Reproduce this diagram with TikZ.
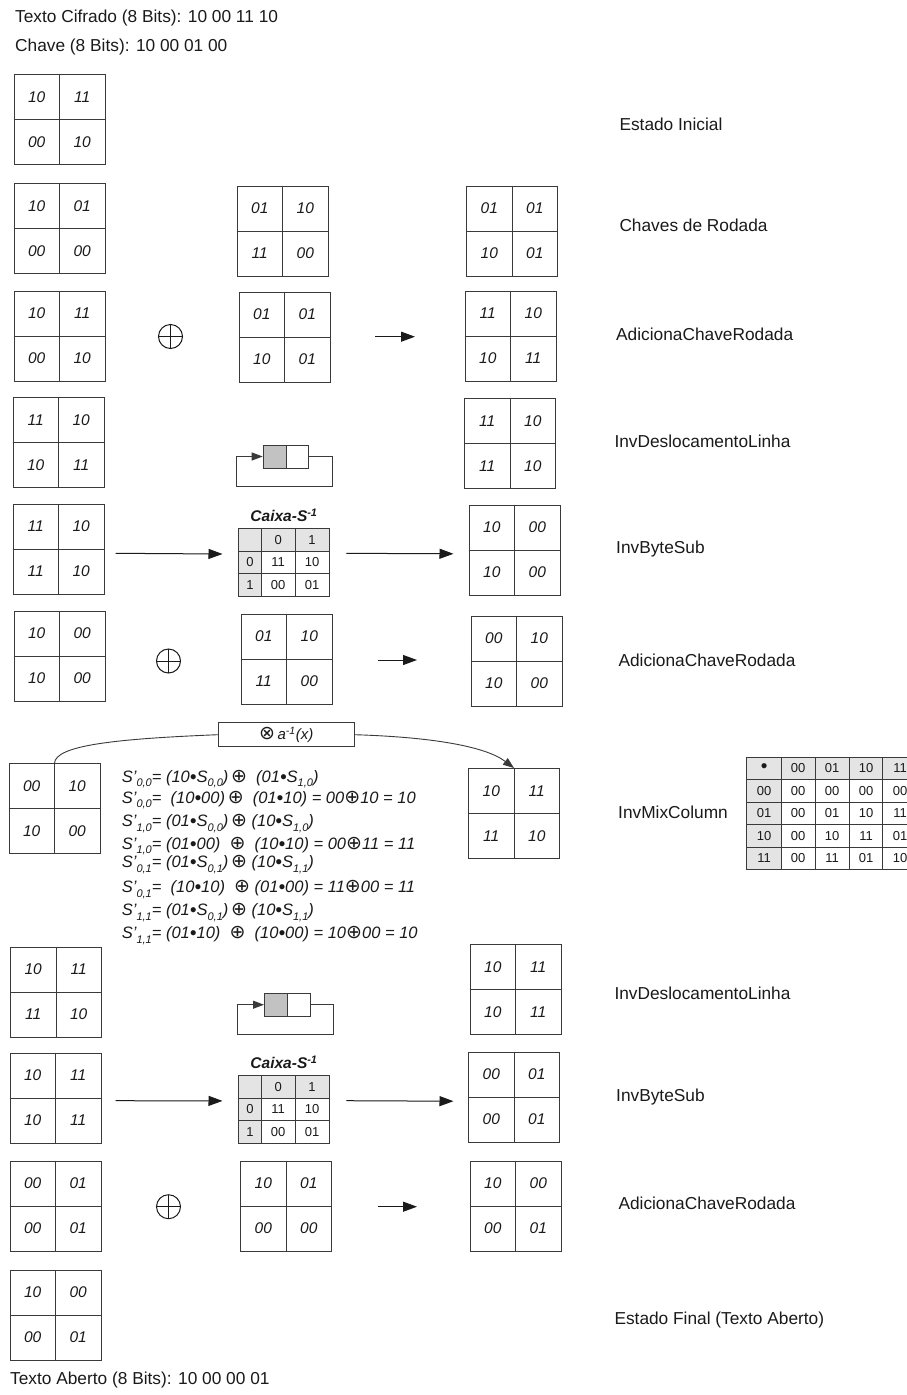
\documentclass[tikz,border=0pt]{standalone}
\usepackage{fontspec}
\setmainfont{Liberation Sans}
\newfontfamily\dejavu{DejaVu Sans}
\usetikzlibrary{arrows.meta,calc}
\definecolor{ln}{HTML}{3A3A3A}
\definecolor{tx}{HTML}{1A1A1A}
\definecolor{hd}{HTML}{E4E4E4}
\definecolor{sh}{HTML}{C2C2C2}
\tikzset{
  gridbox/.style={draw=ln, line width=1pt, minimum width=91pt, minimum height=90pt, inner sep=0pt, anchor=north west},
  gridline/.style={draw=ln, line width=1pt},
  celltxt/.style={font=\fontsize{15.5}{16}\selectfont\itshape, text=tx, inner sep=0pt},
  lbl/.style={font=\fontsize{17.3}{20}\selectfont, text=tx, anchor=base west, inner sep=0pt},
  frm/.style={font=\fontsize{16.5}{18}\selectfont\itshape, text=tx, anchor=base west, inner sep=0pt},
  arr/.style={draw=tx, line width=1pt, -{Triangle[length=14pt,width=10pt]}},
  looparr/.style={draw=ln, line width=1pt, -{Triangle[length=11pt,width=8pt]}},
  curvearr/.style={draw=ln, line width=0.9pt, -{Triangle[length=11pt,width=8pt]}},
  xorop/.style={circle, draw=tx, line width=1pt, minimum size=24pt, inner sep=0pt,
    path picture={\draw[tx, line width=1pt] (path picture bounding box.north) -- (path picture bounding box.south)
      (path picture bounding box.west) -- (path picture bounding box.east);}},
  shbox/.style={draw=ln, line width=1pt, minimum width=22.8pt, minimum height=23pt, inner sep=0pt, anchor=north west},
  tabframe/.style={minimum width=90.6pt, minimum height=67.6pt, inner sep=0pt, anchor=north west},
  tabtxt/.style={font=\fontsize{13}{14}\selectfont, text=tx, inner sep=0pt},
  caixatitle/.style={font=\fontsize{15.5}{16}\selectfont\bfseries\itshape, text=tx, inner sep=0pt},
  opbox/.style={draw=ln, line width=1pt, minimum width=135.7pt, minimum height=24pt, inner sep=0pt, font=\fontsize{15}{16}\selectfont\itshape, text=tx},
}
\newcommand\grid[6]{%
  \node[gridbox] (#1) at (#2) {};
  \draw[gridline] (#1.north) -- (#1.south) (#1.west) -- (#1.east);
  \node[celltxt] (#1-a) at ($(#1.center)+(-22.75,-22.5)$) {#3};
  \node[celltxt] (#1-b) at ($(#1.center)+(22.75,-22.5)$) {#4};
  \node[celltxt] (#1-c) at ($(#1.center)+(-22.75,22.5)$) {#5};
  \node[celltxt] (#1-d) at ($(#1.center)+(22.75,22.5)$) {#6};
}
\newcommand\shiftic[3]{%
  \node[shbox, fill=sh] (#1-g) at (#2,#3) {};
  \node[shbox, fill=white] (#1-w) at (#2+22.8,#3) {};
  \draw[looparr] (#1-w.east) -- ++(23,0) -- ++(0,30) -- ++(-96,0) -- ++(0,-30) -- (#1-g.west);
}
\newcommand\caixa[3]{%
  \node[tabframe] (#1) at (#2,#3) {};
  \node[caixatitle] (#1-t) at ($(#1.north)+(0,-13)$) {Caixa-S\textsuperscript{-1}};
  \fill[hd] (#1.north west) rectangle ++(90.6,23);
  \fill[hd] (#1.north west) rectangle ++(23,67.6);
  \draw[ln, line width=0.8pt] ($(#1.north west)+(56.5,0)$) -- ++(0,67.6);
  \draw[ln, line width=0.8pt] ($(#1.north west)+(0,45.3)$) -- ++(90.6,0);
  \draw[ln, line width=1.6pt] ($(#1.north west)+(23,0)$) -- ++(0,67.6);
  \draw[ln, line width=1.6pt] ($(#1.north west)+(0,23)$) -- ++(90.6,0);
  \draw[ln, line width=0.8pt] (#1.north west) rectangle (#1.south east);
  \node[tabtxt] (#1-h1) at ($(#1.north west)+(39.7,11.5)$) {0};
  \node[tabtxt] (#1-h2) at ($(#1.north west)+(73.5,11.5)$) {1};
  \node[tabtxt] (#1-r0) at ($(#1.north west)+(11.5,34)$) {0};
  \node[tabtxt] (#1-r1) at ($(#1.north west)+(11.5,56.5)$) {1};
  \node[tabtxt] (#1-c00) at ($(#1.north west)+(39.7,34)$) {11};
  \node[tabtxt] (#1-c01) at ($(#1.north west)+(73.5,34)$) {10};
  \node[tabtxt] (#1-c10) at ($(#1.north west)+(39.7,56.5)$) {00};
  \node[tabtxt] (#1-c11) at ($(#1.north west)+(73.5,56.5)$) {01};
}
\newcommand\ssub[1]{\raisebox{-0.55ex}{\fontsize{11}{11}\selectfont #1}}
\newcommand\xo{{\dejavu\upshape\fontsize{19}{19}\selectfont\char"2295}}
\newcommand\dt{{\fontsize{19}{19}\selectfont\raisebox{-0.1ex}{•}}}
\begin{document}
\begin{tikzpicture}[x=1pt,y=-1pt]
\useasboundingbox[fill=white] (0,0) rectangle (906,1395);

% header / footer
\node[lbl] (hdr1) at (15,22.9) {Texto Cifrado (8 Bits): 10 00 11 10};
\node[lbl] (hdr2) at (15,51.7) {Chave (8 Bits): 10 00 01 00};
\node[lbl] (ftr) at (10,1384.5) {Texto Aberto (8 Bits): 10 00 00 01};

% right labels
\node[lbl] (l1) at (619.3,130.5) {Estado Inicial};
\node[lbl] (l2) at (619.3,231.6) {Chaves de Rodada};
\node[lbl] (l3) at (616,340) {AdicionaChaveRodada};
\node[lbl] (l4) at (614.3,447) {InvDeslocamentoLinha};
\node[lbl] (l5) at (616,553) {InvByteSub};
\node[lbl] (l6) at (618.3,666) {AdicionaChaveRodada};
\node[lbl] (l7) at (618,818) {InvMixColumn};
\node[lbl] (l8) at (614.3,999) {InvDeslocamentoLinha};
\node[lbl] (l9) at (616,1101) {InvByteSub};
\node[lbl] (l10) at (618.3,1209) {AdicionaChaveRodada};
\node[lbl] (l11) at (614.3,1324) {Estado Final (Texto Aberto)};

% row 1
\grid{g1}{13.5,74}{10}{11}{00}{10}
% row 2
\grid{g2a}{13.5,183}{10}{01}{00}{00}
\grid{g2b}{236.5,185.5}{01}{10}{11}{00}
\grid{g2c}{466,185.5}{01}{01}{10}{01}
% row 3
\grid{g3a}{13.5,290.5}{10}{11}{00}{10}
\node[xorop] (x3) at (170.5,336.5) {};
\grid{g3b}{238.5,291.5}{01}{01}{10}{01}
\coordinate (a3s) at (375,336.7);
\coordinate (a3e) at (415,336.7);
\draw[arr] (a3s) -- (a3e);
\grid{g3c}{464.5,290.5}{11}{10}{10}{11}
% row 4
\grid{g4a}{12.5,397}{11}{10}{10}{11}
\shiftic{s4}{262.7}{444.5}
\grid{g4c}{464,398}{11}{10}{11}{10}
% row 5
\grid{g5a}{12.5,503.5}{11}{10}{11}{10}
\caixa{cx5}{238.5}{528.5}
\coordinate (a5s) at (115.6,553.3);
\coordinate (a5e) at (346.3,553.3);
\draw[arr] (a5s) -- ($(cx5.west)+(-16,-8.5)$);
\grid{g5c}{468.5,504.5}{10}{00}{10}{00}
\draw[arr] (a5e) -- ($(g5c.west)+(-15,3.8)$);
% row 6
\grid{g6a}{13.5,610.5}{10}{00}{10}{00}
\node[xorop] (x6) at (168.5,661) {};
\grid{g6b}{240.5,613.5}{01}{10}{11}{00}
\coordinate (a6s) at (378,660);
\coordinate (a6e) at (417,660);
\draw[arr] (a6s) -- (a6e);
\grid{g6c}{470.5,615.5}{00}{10}{10}{00}
% row 7
\grid{g7a}{8.5,763}{00}{10}{10}{00}
\node[opbox] (op) at (286.2,734.7) {{\dejavu\upshape\fontsize{19}{19}\selectfont\char"2297}\,a\textsuperscript{-1}(x)};
\grid{g7c}{468,768}{10}{11}{11}{10}
\draw[ln, line width=0.9pt] (g7a.north) .. controls (56,746) and (110,739) .. (op.west);
\draw[curvearr] (op.east) .. controls (430,737) and (485,746) .. (g7c.north);

\node[frm] (f1) at (121.7,782) {S'\ssub{0,0}= (10\dt S\ssub{0,0})\,\xo~ (01\dt S\ssub{1,0})};
\node[frm] (f2) at (121.7,803) {S'\ssub{0,0}=~ (10\dt 00)\,\xo~ (01\dt 10) = 00\xo10 = 10};
\node[frm] (f3) at (121.7,826.5) {S'\ssub{1,0}= (01\dt S\ssub{0,0})\,\xo\ (10\dt S\ssub{1,0})};
\node[frm] (f4) at (121.7,849) {S'\ssub{1,0}= (01\dt 00)~ \xo~ (10\dt 10) = 00\xo11 = 11};
\node[frm] (f5) at (121.7,867.5) {S'\ssub{0,1}= (01\dt S\ssub{0,1})\,\xo\ (10\dt S\ssub{1,1})};
\node[frm] (f6) at (121.7,892.5) {S'\ssub{0,1}=~ (10\dt 10)~ \xo\ (01\dt 00) = 11\xo00 = 11};
\node[frm] (f7) at (121.7,915.5) {S'\ssub{1,1}= (01\dt S\ssub{0,1})\,\xo\ (10\dt S\ssub{1,1})};
\node[frm] (f8) at (121.7,938.5) {S'\ssub{1,1}= (01\dt 10)~ \xo~ (10\dt 00) = 10\xo00 = 10};

% multiplication table
\fill[hd] (746.7,757.3) rectangle (920,779.7);
\fill[hd] (746.7,757.3) rectangle (781.7,869.3);
\foreach \yy in {802.1,824.5,846.9} \draw[ln, line width=0.8pt] (746.7,\yy) -- (920,\yy);
\foreach \xx in {815.3,849.3,882.7} \draw[ln, line width=0.8pt] (\xx,757.3) -- (\xx,869.3);
\draw[ln, line width=1.5pt] (746.7,779.7) -- (920,779.7);
\draw[ln, line width=1.5pt] (781.7,757.3) -- (781.7,869.3);
\draw[ln, line width=0.8pt] (746.7,757.3) rectangle (916.7,869.3);
\foreach \row [count=\r from 0] in {{\dt,00,01,10,11},{00,00,00,00,00},{01,00,01,10,11},{10,00,10,11,01},{11,00,11,01,10}} {
  \foreach \v [count=\c from 0] in \row {
    \node[tabtxt] (m-\r-\c) at ({764.2+34*\c},{768.5+22.4*\r}) {\v};
  }
}
% row 8
\grid{g8a}{10,946.5}{10}{11}{11}{10}
\shiftic{s8}{264}{992.7}
\grid{g8c}{469.5,944}{10}{11}{10}{11}
% row 9
\grid{g9a}{9.5,1052.5}{10}{11}{10}{11}
\caixa{cx9}{238.5}{1075.5}
\coordinate (a9s) at (115.6,1100.7);
\coordinate (a9e) at (346.3,1100.7);
\draw[arr] (a9s) -- ($(cx9.west)+(-16,-8.6)$);
\grid{g9c}{468,1051.5}{00}{01}{00}{01}
\draw[arr] (a9e) -- ($(g9c.west)+(-14.5,4.2)$);
% row 10
\grid{g10a}{9.5,1160.5}{00}{01}{00}{01}
\node[xorop] (x10) at (168.5,1206.7) {};
\grid{g10b}{240,1160.5}{10}{01}{00}{00}
\coordinate (a10s) at (378,1206.7);
\coordinate (a10e) at (417,1206.7);
\draw[arr] (a10s) -- (a10e);
\grid{g10c}{469.5,1160.5}{10}{00}{00}{01}
% row 11
\grid{g11}{9.5,1269.5}{10}{00}{00}{01}
\end{tikzpicture}
\end{document}
